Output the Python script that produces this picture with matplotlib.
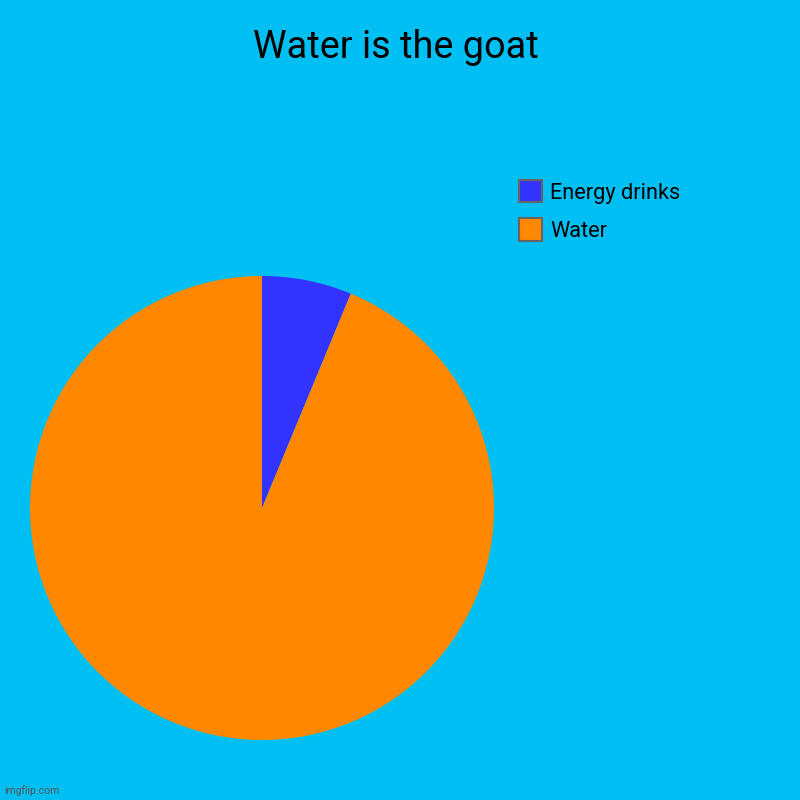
import matplotlib.pyplot as plt
from matplotlib.patches import Patch

plt.rcParams['font.family'] = ['Roboto', 'DejaVu Sans']

# data
labels = ['Energy drinks', 'Water']
values = [1, 15]
colors = ['#3333FF', '#FF8800']
BG = '#00BFF3'

fig = plt.figure(figsize=(8, 8), dpi=100, facecolor=BG)

# pie axes placed like the original
cx, cy, r = 262 / 800, 1 - 508 / 800, 232 / 800
ax = fig.add_axes([cx - r, cy - r, 2 * r, 2 * r])
ax.set_facecolor(BG)
ax.pie(values, colors=colors, startangle=90, counterclock=False,
       wedgeprops=dict(linewidth=0))
ax.set_aspect('equal')
ax.set_xlim(-1, 1)
ax.set_ylim(-1, 1)
ax.axis('off')

fig.text(0.495, 1 - 48 / 800, 'Water is the goat', ha='center', va='center',
         fontsize=27.3, color='black')

handles = [Patch(facecolor=c, edgecolor='#666666', linewidth=1.5) for c in colors]
fig.legend(handles, labels, loc='upper left', bbox_to_anchor=(519 / 800, 1 - 180 / 800),
           frameon=False, fontsize=15.7, handlelength=1.05, handleheight=1.2,
           handletextpad=0.37, labelspacing=0.68, borderpad=0, borderaxespad=0)

fig.text(4 / 800, 9 / 800, 'imgflip.com', ha='left', va='center',
         fontsize=7.5, color='#555555')

fig.savefig('out.png', dpi=100, facecolor=BG)
